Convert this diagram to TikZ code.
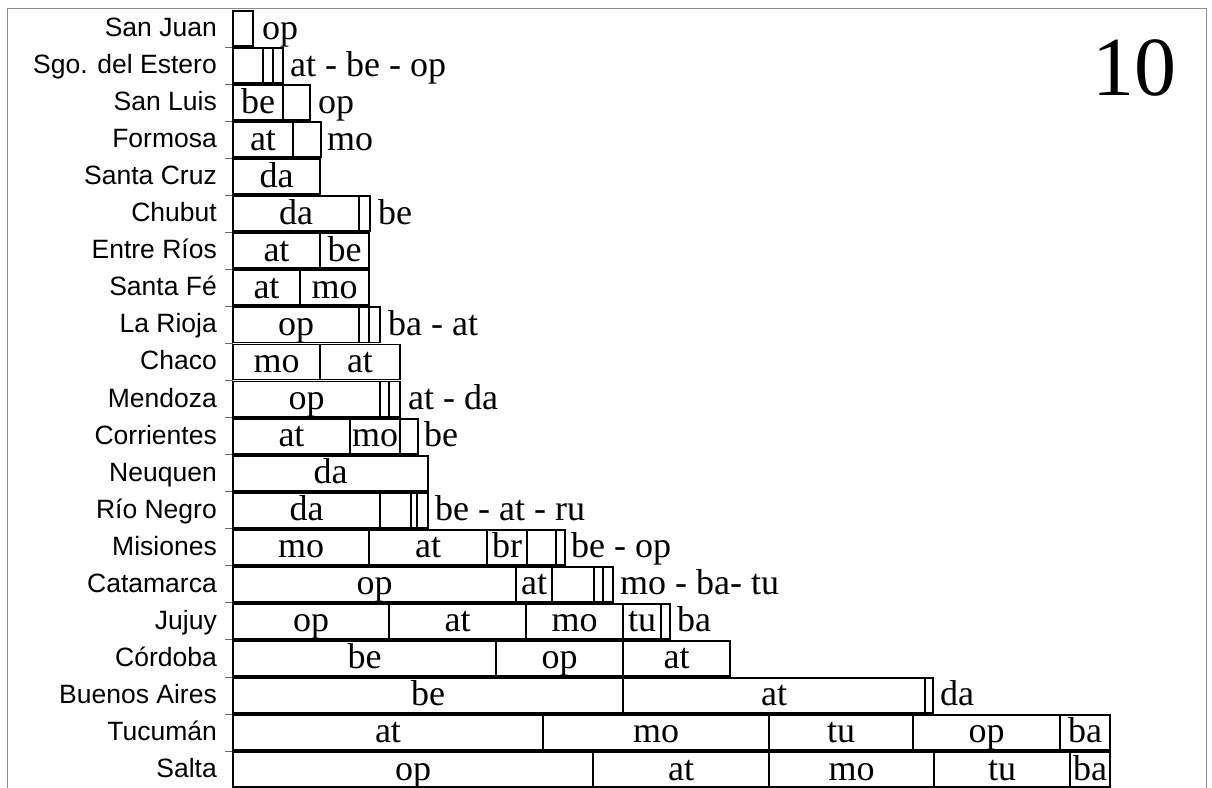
\documentclass[tikz,border=0pt]{standalone}
\usepackage{fontspec}
\setmainfont{Liberation Serif}
\newfontfamily\provsans{Liberation Sans}
\tikzset{
  cellline/.style={draw=black, line width=1.9pt},
  celltext/.style={anchor=base, inner sep=0pt, font=\fontsize{36}{36}\selectfont},
  outtext/.style={anchor=base west, inner sep=0pt, font=\fontsize{36}{36}\selectfont},
  provlabel/.style={anchor=base east, inner sep=0pt, font=\provsans\fontsize{26.5}{27}\selectfont},
  framel/.style={draw=black!45, line width=0.8pt},
  tickl/.style={draw=black!60, line width=0.8pt},
}
\newcommand\provrow[5]{%
  \pgfmathsetmacro\yt{10+37.05*#1}%
  \pgfmathsetmacro\yb{\yt+37.05}%
  \pgfmathsetmacro\yc{\yt+18.5}%
  \node[provlabel] (lab#1) at (217,\yc+8) {#2};
  \foreach \a/\b/\t [count=\k] in {#3} {
    \draw[cellline] (\a,\yt+1) rectangle (\b,\yb-1);
    \node[celltext] (c#1-\k) at ({(\a+\b)/2},\yc+10.5) {\t};
  }
  \node[outtext] (o#1) at (#4,\yc+10.5) {#5};
}
\begin{document}
\begin{tikzpicture}[x=1pt,y=-1pt]
\useasboundingbox (0,0) rectangle (1212,787);
\fill[white] (0,0) rectangle (1212,787);
\coordinate (fa) at (7,800);
\coordinate (fb) at (7,8);
\coordinate (fc) at (1206,8);
\coordinate (fd) at (1206,800);
\draw[framel] (fa) -- (fb) -- (fc) -- (fd);
\foreach \i in {1,...,20} {
  \pgfmathsetmacro\ty{10+37.05*\i}
  \draw[tickl] (225,\ty) -- (233,\ty);
}
\node[anchor=base, inner sep=0pt, font=\fontsize{84}{84}\selectfont] (num) at (1134,95) {10};
\provrow{0}{San Juan}{233/253/{}}{262}{op}
\provrow{1}{Sgo. del Estero}{233/263/{},263/273/{},273/283/{}}{290}{at - be - op}
\provrow{2}{San Luis}{233/283/be,283/310/{}}{318}{op}
\provrow{3}{Formosa}{233/293/at,293/321/{}}{327}{mo}
\provrow{4}{Santa Cruz}{233/320/da}{330}{}
\provrow{5}{Chubut}{233/359/da,359/370/{}}{378}{be}
\provrow{6}{Entre Ríos}{233/320/at,320/369/be}{380}{}
\provrow{7}{Santa Fé}{233/300/at,300/369/mo}{380}{}
\provrow{8}{La Rioja}{233/359/op,359/369/{},369/380/{}}{388}{ba - at}
\provrow{9}{Chaco}{233/320/mo,320/400/at}{410}{}
\provrow{10}{Mendoza}{233/380/op,380/389/{},389/400/{}}{408}{at - da}
\provrow{11}{Corrientes}{233/350/at,350/400/mo,400/418/{}}{424}{be}
\provrow{12}{Neuquen}{233/428/da}{440}{}
\provrow{13}{Río Negro}{233/380/da,380/411/{},411/417/{},417/428/{}}{435}{be - at - ru}
\provrow{14}{Misiones}{233/369/mo,369/487/at,487/527/br,527/556/{},556/565/{}}{571}{be - op}
\provrow{15}{Catamarca}{233/516/op,516/552/at,552/594/{},594/603/{},603/613/{}}{620}{mo - ba- tu}
\provrow{16}{Jujuy}{233/389/op,389/526/at,526/623/mo,623/661/tu,661/670/{}}{677}{ba}
\provrow{17}{Córdoba}{233/496/be,496/623/op,623/730/at}{740}{}
\provrow{18}{Buenos Aires}{233/623/be,623/925/at,925/933/{}}{940}{da}
\provrow{19}{Tucumán}{233/543/at,543/769/mo,769/913/tu,913/1060/op,1060/1110/ba}{1120}{}
\provrow{20}{Salta}{233/593/op,593/769/at,769/934/mo,934/1070/tu,1070/1110/ba}{1120}{}
\end{tikzpicture}
\end{document}
